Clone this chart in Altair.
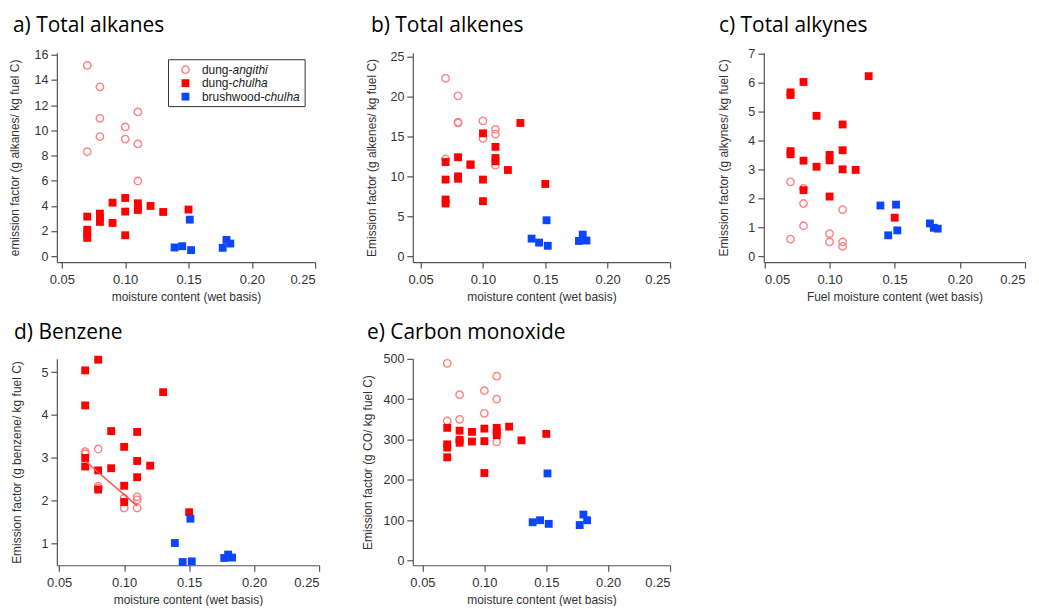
import altair as alt
import pandas as pd

# ---------------- data ----------------
angithi_x = [0.07, 0.07, 0.08, 0.08, 0.08, 0.10, 0.10, 0.11, 0.11, 0.11]
chulha_x = [0.07, 0.07, 0.07, 0.07, 0.08, 0.08, 0.08, 0.09, 0.09,
            0.10, 0.10, 0.10, 0.11, 0.11, 0.11, 0.12, 0.13, 0.15]
brush_x = [0.139, 0.145, 0.151, 0.152, 0.177, 0.180, 0.183]

alkanes_angithi = [15.15, 8.3, 13.45, 10.95, 9.5, 10.27, 9.3, 11.46, 8.92, 5.97]
alkanes_chulha = [3.14, 2.1, 1.75, 1.45, 3.38, 3.0, 2.72, 4.25, 2.64,
                  4.62, 3.54, 1.66, 4.2, 3.93, 3.67, 3.99, 3.51, 3.70]
alkanes_brush = [0.69, 0.79, 2.9, 0.48, 0.66, 1.29, 1.0]

alkenes_angithi = [22.3, 12.2, 20.1, 16.8, 16.7, 16.95, 14.75, 15.9, 15.3, 11.4]
alkenes_chulha = [11.8, 9.6, 7.1, 6.6, 12.4, 10.0, 9.7, 11.5, 11.45,
                  15.4, 9.6, 6.9, 13.7, 12.3, 11.9, 10.8, 16.7, 9.05]
alkenes_brush = [2.2, 1.7, 4.5, 1.3, 1.9, 2.7, 1.96]

alkynes_angithi = [2.57, 0.59, 2.34, 1.82, 1.05, 0.78, 0.49, 1.61, 0.49, 0.34]
alkynes_chulha = [5.66, 5.57, 3.63, 3.52, 6.02, 3.30, 2.28, 4.85, 3.09,
                  3.5, 3.31, 2.06, 4.55, 3.66, 3.0, 2.98, 6.22, 1.33]
alkynes_brush = [1.75, 0.72, 1.78, 0.89, 1.13, 0.98, 0.95]

benzene_angithi = [3.14, 3.09, 3.2, 2.33, 2.28, 2.05, 1.82, 2.08, 2.01, 1.82]
benzene_chulha = [5.04, 4.22, 2.99, 2.79, 5.29, 2.70, 2.25, 3.62, 2.75,
                  3.25, 2.34, 1.96, 3.60, 2.92, 2.54, 2.81, 4.53, 1.72]
benzene_brush = [1.0, 0.555, 1.57, 0.57, 0.65, 0.73, 0.66]
benzene_fit_x = [0.07, 0.11]
benzene_fit_y = [2.92, 1.87]

co_angithi = [489, 346, 411, 350, 300, 421, 365, 457, 400, 294]
co_chulha = [329, 288, 280, 256, 322, 299, 292, 319, 295,
             327, 296, 217, 329, 319, 311, 332, 298, 314]
co_brush = [95, 100, 216, 91, 88, 114, 100]

x_ticks = [0.05, 0.10, 0.15, 0.20, 0.25]
legend_rows = [("dung-", "angithi"), ("dung-", "chulha"), ("brushwood-", "chulha")]

# ---------------- style ----------------
RED = "#FF0000"
PINK = "#FF8080"
BLUE = "#0A46FF"
AX = "#555555"
LAB = "#333333"
FONT = "Liberation Sans"
TFONT = "Open Sans"


def panel(title, title_dx, title_off, ytitle, ytitle_x, w, h, xdom, ydom,
          yticks, ang, chu, bru, xtitle="moisture content (wet basis)",
          extra=None):
    xs = alt.Scale(domain=xdom, nice=False, zero=False)
    ys = alt.Scale(domain=ydom, nice=False, zero=False)
    xax = alt.Axis(values=x_ticks, format=".2f", title=xtitle, titleY=29,
                   labelPadding=5, labelFontSize=13)
    yax = alt.Axis(values=yticks, title=ytitle, titleX=ytitle_x, titleY=h / 2,
                   titleAngle=270, titleBaseline="bottom", titleAlign="center",
                   labelPadding=3, labelFontSize=12.5)
    X = alt.X("x:Q", scale=xs, axis=xax)
    Y = alt.Y("y:Q", scale=ys, axis=yax)
    la = alt.Chart(pd.DataFrame({"x": angithi_x, "y": ang})).mark_point(
        shape="circle", filled=False, stroke=PINK, strokeWidth=1.4, size=55,
        opacity=1).encode(x=X, y=Y)
    lc = alt.Chart(pd.DataFrame({"x": chulha_x, "y": chu})).mark_point(
        shape="square", filled=True, fill=RED, size=62, opacity=1).encode(x=X, y=Y)
    lb = alt.Chart(pd.DataFrame({"x": brush_x, "y": bru})).mark_point(
        shape="square", filled=True, fill=BLUE, size=62, opacity=1).encode(x=X, y=Y)
    ttl = alt.Chart(pd.DataFrame({"t": [title]})).mark_text(
        align="left", baseline="alphabetic", font=TFONT, fontSize=21,
        color="black").encode(x=alt.value(title_dx), y=alt.value(-title_off),
                              text="t:N")
    layers = [la, lc, lb, ttl]
    if extra is not None:
        layers += extra(X, Y)
    return alt.layer(*layers).properties(width=w, height=h)


def legend_layers(X, Y):
    out = []
    box = alt.Chart(pd.DataFrame({"k": [0]})).mark_rect(
        fill="white", stroke="#333333", strokeWidth=1).encode(
        x=alt.value(112), x2=alt.value(249), y=alt.value(7), y2=alt.value(54))
    out.append(box)
    ys = [17, 30.5, 44]
    styles = [dict(shape="circle", filled=False, stroke=PINK, strokeWidth=1.4, size=55),
              dict(shape="square", filled=True, fill=RED, size=62),
              dict(shape="square", filled=True, fill=BLUE, size=62)]
    widths = [30.7, 30.7, 62.7]
    for (a, b), yy, st, wd in zip(legend_rows, ys, styles, widths):
        out.append(alt.Chart(pd.DataFrame({"k": [0]})).mark_point(opacity=1, **st).encode(
            x=alt.value(129), y=alt.value(yy)))
        out.append(alt.Chart(pd.DataFrame({"t": [a]})).mark_text(
            align="left", baseline="middle", font=FONT, fontSize=12, color="#222222").encode(
            x=alt.value(145.5), y=alt.value(yy), text="t:N"))
        out.append(alt.Chart(pd.DataFrame({"t": [b]})).mark_text(
            align="left", baseline="middle", font=FONT, fontSize=12, fontStyle="italic",
            color="#222222").encode(
            x=alt.value(145.5 + wd), y=alt.value(yy), text="t:N"))
    return out


def fit_layer(X, Y):
    return [alt.Chart(pd.DataFrame({"x": benzene_fit_x, "y": benzene_fit_y})).mark_line(
        color="#FF5050", strokeWidth=1.5).encode(x=X, y=Y)]


pa = panel("a) Total alkanes", -44, 21, "emission factor (g alkanes/ kg fuel C)", -35,
           259, 210, [0.046, 0.25], [-0.475, 16.16], list(range(0, 17, 2)),
           alkanes_angithi, alkanes_chulha, alkanes_brush, extra=legend_layers)
pb = panel("b) Total alkenes", -42, 21, "Emission factor (g alkenes/ kg fuel C)", -34,
           258, 210, [0.0437, 0.2501], [-0.75, 25.5], [0, 5, 10, 15, 20, 25],
           alkenes_angithi, alkenes_chulha, alkenes_brush)
pc = panel("c) Total alkynes", -45, 21, "Emission factor (g alkynes/ kg fuel C)", -33,
           262, 210, [0.0495, 0.25], [-0.207, 7.03], list(range(0, 8)),
           alkynes_angithi, alkynes_chulha, alkynes_brush,
           xtitle="Fuel moisture content (wet basis)")
pd_ = panel("d) Benzene", -43, 20, "Emission factor (g benzene/ kg fuel C)", -33,
            263, 207, [0.0482, 0.25], [0.48, 5.31], [1, 2, 3, 4, 5],
            benzene_angithi, benzene_chulha, benzene_brush, extra=fit_layer)
pe = panel("e) Carbon monoxide", -46, 20, "Emission factor (g CO/ kg fuel C)", -38,
           258, 207, [0.0422, 0.25], [-11.6, 500], [0, 100, 200, 300, 400, 500],
           co_angithi, co_chulha, co_brush)

chart = alt.concat(pa, pb, pc, pd_, pe, columns=3, align="none", bounds="flush",
                   spacing={"row": 97, "column": 94}).properties(
    padding={"left": 0, "top": 6, "right": 5, "bottom": 0},
    background="white",
).configure_view(stroke=None).configure_axis(
    domainColor=AX, domainWidth=1.2, tickColor=AX, tickWidth=1.2, tickSize=6,
    labelColor=LAB, labelFont=FONT, titleFont=FONT, titleFontSize=12,
    titleFontWeight="normal", titleColor=LAB, grid=False,
)

chart.save("out.html", embed_options={"renderer": "svg", "actions": False})
